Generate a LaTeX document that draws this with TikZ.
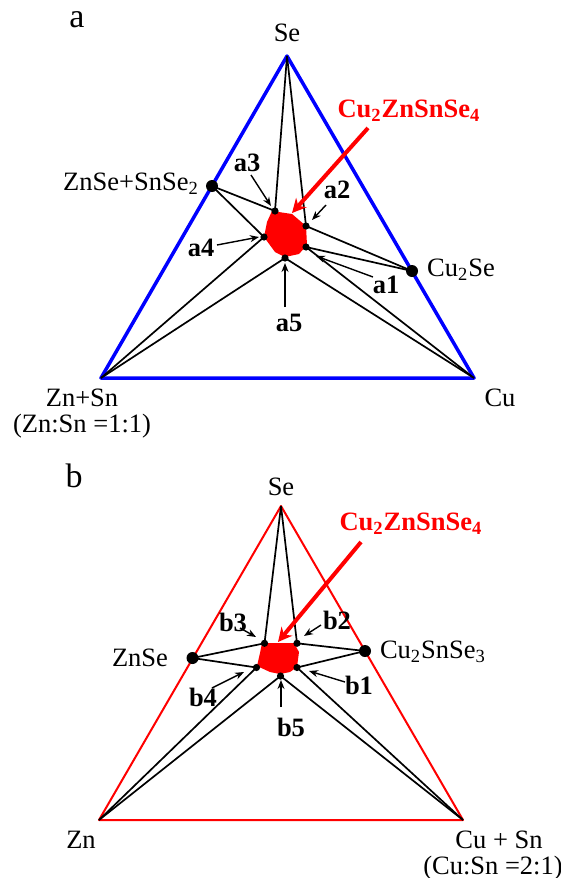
\documentclass[tikz,border=0pt]{standalone}
\usepackage{fontspec}
\setmainfont{Liberation Serif}
\usetikzlibrary{arrows.meta}

\begin{document}
\begin{tikzpicture}[x=0.5pt,y=-0.5pt,>=Stealth,line join=round,
  tie/.style={line width=0.85pt},
  txt/.style={font=\fontsize{13.25}{15}\selectfont,inner sep=0pt},
  tag/.style={font=\fontsize{13.25}{15}\selectfont\bfseries,inner sep=0pt},
  pointer/.style={line width=0.7pt,-{Stealth[length=4.5pt,width=3.5pt]}},
  redpointer/.style={red,line width=2pt,-{Stealth[length=7pt,width=7pt]}}]
  \useasboundingbox (0,0) rectangle (561,878);
  % ---- panel a ----
  \coordinate (SeA) at (287,56);
  \coordinate (ZnSnA) at (101,378);
  \coordinate (CuA) at (474,378);
  \coordinate (ZSS) at (212,186);
  \coordinate (CuSe) at (412,271);
  \coordinate (a1) at (306,247);
  \coordinate (a2) at (306,226);
  \coordinate (a3) at (275,211);
  \coordinate (a4) at (264,237);
  \coordinate (a5) at (285,258);
  \fill[red] (272,211) -- (292,214) -- (306,226) -- (307,245) -- (299,254)
    -- (285,257) -- (275,252) -- (264,237) -- (267,222) -- cycle;
  \draw[blue,line width=1.75pt] (SeA) -- (ZnSnA) -- (CuA) -- cycle;
  \draw[tie] (SeA) -- (a3);
  \draw[tie] (SeA) -- (a2);
  \draw[tie] (ZSS) -- (a3);
  \draw[tie] (ZSS) -- (a4);
  \draw[tie] (CuSe) -- (a2);
  \draw[tie] (CuSe) -- (a1);
  \draw[tie] (ZnSnA) -- (a4);
  \draw[tie] (ZnSnA) -- (a5);
  \draw[tie] (CuA) -- (a1);
  \draw[tie] (CuA) -- (a5);
  \fill (ZSS) circle (3pt);
  \fill (CuSe) circle (3pt);
  \fill (a1) circle (1.8pt);
  \fill (a2) circle (1.8pt);
  \fill (a3) circle (1.8pt);
  \fill (a4) circle (1.8pt);
  \fill (a5) circle (1.8pt);
  \node[txt,font=\fontsize{17}{19}\selectfont] (panA) at (77,20) {a};
  \node[txt] (SeAlab) at (287,33) {Se};
  \node[txt] (ZSSlab) at (131,184) {ZnSe+SnSe\textsubscript{2}};
  \node[txt] (CuSelab) at (461,270) {Cu\textsubscript{2}Se};
  \node[txt] (ZnSnAlab) at (82,398) {Zn+Sn};
  \node[txt] (ratioA) at (82,426) {(Zn:Sn =1:1)};
  \node[txt] (CuAlab) at (500,398) {Cu};
  \node[tag,red] (czA) at (409,111) {Cu\textsubscript{2}ZnSnSe\textsubscript{4}};
  \node[tag] (a1lab) at (386,285) {a1};
  \node[tag] (a2lab) at (337,190) {a2};
  \node[tag] (a3lab) at (247,163) {a3};
  \node[tag] (a4lab) at (201,248) {a4};
  \node[tag] (a5lab) at (289,323) {a5};
  \coordinate (ta1) at (373,277); \coordinate (ha1) at (316,256);
  \coordinate (ta2) at (326,205); \coordinate (ha2) at (312,220);
  \coordinate (ta3) at (251,175); \coordinate (ha3) at (271,206);
  \coordinate (ta4) at (217,245); \coordinate (ha4) at (259,237);
  \coordinate (ta5) at (285,307); \coordinate (ha5) at (285,263);
  \coordinate (tczA) at (368,128); \coordinate (hczA) at (292,213);
  \draw[pointer] (ta1) -- (ha1);
  \draw[pointer] (ta2) -- (ha2);
  \draw[pointer] (ta3) -- (ha3);
  \draw[pointer] (ta4) -- (ha4);
  \draw[pointer] (ta5) -- (ha5);
  \draw[redpointer] (tczA) -- (hczA);
  % ---- panel b ----
  \coordinate (SeB) at (281,506);
  \coordinate (ZnB) at (99,820);
  \coordinate (CuSnB) at (463,820);
  \coordinate (ZnSe) at (192.5,658);
  \coordinate (CST) at (365,651);
  \coordinate (b1) at (297,667.5);
  \coordinate (b2) at (297,643.3);
  \coordinate (b3) at (264.5,643.3);
  \coordinate (b4) at (256.5,667.5);
  \coordinate (b5) at (280.5,676);
  \fill[red] (262,643) -- (294,643) -- (299,652) -- (297,667) -- (290,672)
    -- (280,674) -- (270,672) -- (257,666) -- (260,653) -- cycle;
  \draw[red,line width=1pt] (SeB) -- (ZnB) -- (CuSnB) -- cycle;
  \draw[tie] (SeB) -- (b3);
  \draw[tie] (SeB) -- (b2);
  \draw[tie] (ZnSe) -- (b3);
  \draw[tie] (ZnSe) -- (b4);
  \draw[tie] (CST) -- (b2);
  \draw[tie] (CST) -- (b1);
  \draw[tie] (ZnB) -- (b4);
  \draw[tie] (ZnB) -- (b5);
  \draw[tie] (CuSnB) -- (b1);
  \draw[tie] (CuSnB) -- (b5);
  \fill (ZnSe) circle (3pt);
  \fill (CST) circle (3pt);
  \fill (b1) circle (1.8pt);
  \fill (b2) circle (1.8pt);
  \fill (b3) circle (1.8pt);
  \fill (b4) circle (1.8pt);
  \fill (b5) circle (1.8pt);
  \node[txt,font=\fontsize{17}{19}\selectfont] (panB) at (74,476) {b};
  \node[txt] (SeBlab) at (281,487) {Se};
  \node[txt] (ZnSelab) at (140,658) {ZnSe};
  \node[txt] (CSTlab) at (433,652) {Cu\textsubscript{2}SnSe\textsubscript{3}};
  \node[txt] (ZnBlab) at (81,840) {Zn};
  \node[txt] (CuSnBlab) at (499,840) {Cu + Sn};
  \node[txt] (ratioB) at (493,868) {(Cu:Sn =2:1)};
  \node[tag,red] (czB) at (411,524) {Cu\textsubscript{2}ZnSnSe\textsubscript{4}};
  \node[tag] (b1lab) at (359,685) {b1};
  \node[tag] (b2lab) at (337,620) {b2};
  \node[tag] (b3lab) at (233,622) {b3};
  \node[tag] (b4lab) at (203,697) {b4};
  \node[tag] (b5lab) at (291,727) {b5};
  \coordinate (tb1) at (345,682); \coordinate (hb1) at (309,671);
  \coordinate (tb2) at (321,625); \coordinate (hb2) at (304,636);
  \coordinate (tb3) at (240,628); \coordinate (hb3) at (256,637);
  \coordinate (tb4) at (212,688); \coordinate (hb4) at (244,672);
  \coordinate (tb5) at (281,707); \coordinate (hb5) at (281,680);
  \coordinate (tczB) at (361,542); \coordinate (hczB) at (278,642);
  \draw[pointer] (tb1) -- (hb1);
  \draw[pointer] (tb2) -- (hb2);
  \draw[pointer] (tb3) -- (hb3);
  \draw[pointer] (tb4) -- (hb4);
  \draw[pointer] (tb5) -- (hb5);
  \draw[redpointer] (tczB) -- (hczB);
\end{tikzpicture}
\end{document}
